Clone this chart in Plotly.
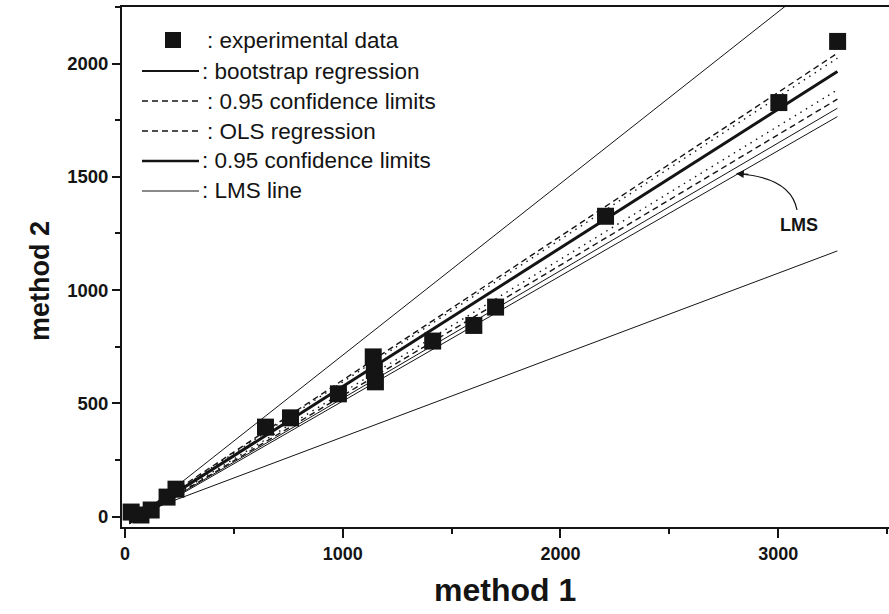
import plotly.graph_objects as go

# ---------------- data ----------------
exp_x = [28, 73, 120, 193, 234, 645, 760, 980, 1140, 1145, 1150, 1413, 1602, 1702, 2207, 3003, 3273]
exp_y = [20, 7, 29, 86, 121, 395, 436, 542, 705, 645, 595, 775, 844, 925, 1326, 1828, 2098]

line_x = [20, 3272]
dashed_upper = [-20, 2046]
dotted_upper = [-22, 2024]
boot_reg = [-25, 1965]
dotted_lower = [-28, 1884]
dashed_lower = [-30, 1843]
lms_a = [-30, 1803]
lms_b = [-32, 1766]
wide_upper = [-30, 2435]
wide_lower = [-3, 1173]

legend_labels = [": experimental data", ": bootstrap regression", ": 0.95 confidence limits",
                 ": OLS regression", ": 0.95 confidence limits", ": LMS line"]

x_ticks = [0, 1000, 2000, 3000]
y_ticks = [0, 500, 1000, 1500, 2000]

# ---------------- layout geometry ----------------
W, H = 889, 614
L, T, B, R = 122, 7, 87, 0
PW, PH = W - L - R, H - T - B
XR = [-14, 3509]
YR = [-46, 2250]

def px(x):
    return (x - L) / PW

def py(y):
    return (H - B - y) / PH

def dx(p):
    return XR[0] + (p - L) / PW * (XR[1] - XR[0])

def dy(p):
    return YR[0] + (H - B - p) / PH * (YR[1] - YR[0])

INK = "#141414"
fig = go.Figure()

def add_line(yv, width, dash="solid"):
    fig.add_trace(go.Scatter(x=line_x, y=yv, mode="lines",
                             line=dict(color=INK, width=width, dash=dash),
                             showlegend=False, hoverinfo="skip"))

add_line(wide_upper, 1)
add_line(wide_lower, 1)
add_line(lms_a, 1)
add_line(lms_b, 1)
add_line(dashed_upper, 1.4, "6px,4px")
add_line(dashed_lower, 1.4, "6px,4px")
add_line(dotted_upper, 1.4, "1.5px,5px")
add_line(dotted_lower, 1.4, "1.5px,5px")
add_line(boot_reg, 3)

fig.add_trace(go.Scatter(x=exp_x, y=exp_y, mode="markers",
                         marker=dict(symbol="square", size=17, color=INK, line=dict(width=0)),
                         showlegend=False, hoverinfo="skip"))

shapes = []
annotations = []
FONT = "Liberation Sans, Arial, Helvetica, sans-serif"

# legend (drawn manually)
rows = [40, 71, 101, 131, 161, 191]
shapes.append(dict(type="rect", xref="paper", yref="paper",
                   x0=px(165), x1=px(181), y0=py(48), y1=py(32),
                   fillcolor=INK, line=dict(width=0)))
styles = [None, (2, "solid"), (1.4, "6px,4px"), (1.4, "6px,4px"), (2.6, "solid"), (1, "solid")]
for i, (yy, lab) in enumerate(zip(rows, legend_labels)):
    if styles[i] is not None:
        w, d = styles[i]
        shapes.append(dict(type="line", xref="paper", yref="paper",
                           x0=px(142), x1=px(199), y0=py(yy), y1=py(yy),
                           line=dict(color=INK, width=w, dash=d)))
    annotations.append(dict(xref="paper", yref="paper", x=px(200 if styles[i] and styles[i][1] == "solid" else 205),
                            y=py(yy), text=lab, showarrow=False, xanchor="left", yanchor="middle",
                            font=dict(family=FONT, size=22.5, color=INK)))

# LMS curved arrow
sx, sy = dx(797), dy(210)
cx, cy = dx(791), dy(178)
ex, ey = dx(740), dy(174)
shapes.append(dict(type="path", xref="x", yref="y",
                   path=f"M {sx},{sy} Q {cx},{cy} {ex},{ey}",
                   line=dict(color=INK, width=1.2)))
annotations.append(dict(x=dx(736), y=dy(173.5), xref="x", yref="y", ax=14, ay=1,
                        showarrow=True, arrowhead=2, arrowsize=1.3, arrowwidth=1.2,
                        arrowcolor=INK, text=""))
annotations.append(dict(x=dx(799), y=dy(225), xref="x", yref="y", text="<b>LMS</b>",
                        showarrow=False, font=dict(family=FONT, size=18, color=INK)))

# axis titles
annotations.append(dict(xref="paper", yref="paper", x=px(505), y=py(590), text="<b>method 1</b>",
                        showarrow=False, xanchor="center", yanchor="middle",
                        font=dict(family=FONT, size=32, color=INK)))
annotations.append(dict(xref="paper", yref="paper", x=px(40), y=py(281), text="<b>method 2</b>",
                        showarrow=False, xanchor="center", yanchor="middle", textangle=-90,
                        font=dict(family=FONT, size=27, color=INK)))

fig.update_layout(
    width=W, height=H,
    margin=dict(l=L, r=R, t=T, b=B),
    paper_bgcolor="white", plot_bgcolor="white",
    shapes=shapes, annotations=annotations,
    showlegend=False,
    font=dict(family=FONT, color=INK),
    xaxis=dict(range=XR, showgrid=False, zeroline=False, showline=True, linewidth=2, linecolor=INK,
               mirror=True, ticks="outside", ticklen=9, tickwidth=1.5, tickcolor=INK,
               tickvals=x_ticks, ticktext=[str(v) for v in x_ticks],
               tickfont=dict(family=FONT, size=18, color=INK, weight="bold"),
               minor=dict(ticks="outside", ticklen=5, tickwidth=1.5, tickcolor=INK, dtick=500, tick0=0)),
    yaxis=dict(range=YR, showgrid=False, zeroline=False, showline=True, linewidth=2, linecolor=INK,
               ticks="outside", ticklen=8, tickwidth=1.5, tickcolor=INK,
               tickvals=y_ticks, ticktext=[str(v) for v in y_ticks],
               tickfont=dict(family=FONT, size=18.5, color=INK, weight="bold"),
               minor=dict(ticks="outside", ticklen=5, tickwidth=1.5, tickcolor=INK, dtick=250, tick0=0)),
)

fig.write_html("out.html")
